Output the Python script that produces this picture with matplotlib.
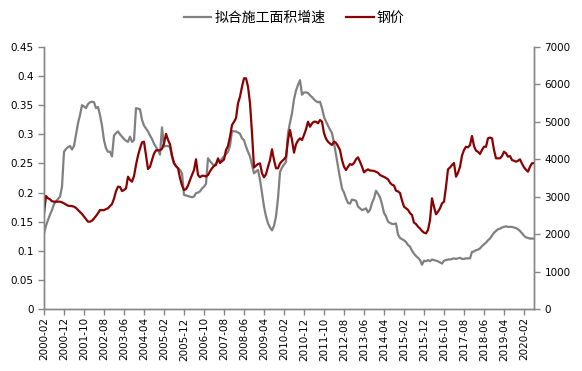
import matplotlib
matplotlib.use("Agg")
import matplotlib.pyplot as plt
import pandas as pd

plt.rcParams['font.family'] = ['DejaVu Sans']

start_month = "2000-02"
n_months = 246
area_name = "拟合施工面积增速"
steel_name = "钢价"

area_growth = [
    .130, .143, .153, .162, .170, .180, .185, .189, .193, .210,
    .270, .275, .278, .280, .274, .280, .300, .319, .333, .350,
    .348, .345, .352, .355, .356, .355, .345, .347, .333, .315,
    .290, .276, .270, .270, .262, .298, .302, .305, .300, .296,
    .292, .289, .287, .296, .287, .290, .345, .344, .343, .325,
    .315, .310, .305, .298, .292, .284, .278, .273, .265, .312,
    .279, .280, .280, .278, .262, .250, .245, .242, .239, .233,
    .196, .195, .194, .193, .192, .193, .199, .200, .202, .207,
    .210, .215, .259, .254, .250, .246, .250, .256, .253, .258,
    .262, .266, .270, .280, .306, .305, .305, .303, .301, .293,
    .290, .279, .270, .262, .248, .233, .236, .239, .222, .199,
    .176, .159, .147, .140, .135, .143, .159, .190, .235, .243,
    .248, .253, .302, .320, .336, .360, .375, .385, .393, .368,
    .372, .372, .371, .367, .364, .360, .357, .355, .356, .345,
    .330, .322, .315, .308, .302, .285, .265, .245, .225, .207,
    .200, .190, .182, .181, .188, .187, .186, .176, .173, .170,
    .171, .173, .166, .170, .182, .190, .203, .198, .192, .180,
    .165, .159, .150, .148, .146, .146, .147, .128, .122, .120,
    .118, .115, .110, .107, .100, .095, .091, .088, .084, .076,
    .083, .082, .084, .082, .085, .084, .083, .082, .080, .078,
    .083, .084, .085, .085, .086, .087, .086, .087, .088, .086,
    .086, .087, .087, .087, .098, .099, .101, .102, .104, .108,
    .111, .114, .118, .121, .126, .131, .134, .137, .138, .140,
    .141, .142, .141, .141, .141, .140, .139, .137, .134, .130,
    .126, .123, .122, .121, .121, .121,
]

steel_price = [
    2550, 3019, 2960, 2930, 2880, 2867, 2867, 2867, 2867, 2850,
    2823, 2790, 2760, 2755, 2750, 2733, 2700, 2645, 2590, 2538,
    2470, 2400, 2333, 2333, 2360, 2420, 2485, 2560, 2645, 2640,
    2640, 2670, 2690, 2750, 2805, 2950, 3150, 3268, 3260, 3150,
    3180, 3220, 3535, 3450, 3402, 3550, 3850, 4100, 4293, 4450,
    4470, 4100, 3740, 3800, 3981, 4150, 4240, 4240, 4240, 4280,
    4420, 4680, 4520, 4400, 4100, 3900, 3820, 3760, 3500, 3300,
    3179, 3200, 3300, 3446, 3580, 3714, 4000, 3580, 3520, 3560,
    3560, 3540, 3580, 3680, 3760, 3820, 3850, 4025, 3900, 3950,
    3990, 4248, 4355, 4603, 4916, 5000, 5100, 5495, 5672, 5940,
    6164, 6164, 5940, 5500, 4700, 3780, 3830, 3874, 3890, 3625,
    3520, 3600, 3800, 3981, 4266, 3981, 3760, 3760, 3890, 3950,
    4000, 4070, 4515, 4782, 4515, 4176, 4400, 4500, 4560, 4515,
    4650, 4800, 5004, 4870, 4960, 5004, 5004, 4960, 5050, 5004,
    4700, 4550, 4470, 4420, 4382, 4470, 4440, 4350, 4248, 3981,
    3800, 3714, 3800, 3874, 3850, 3900, 4000, 4052, 3935, 3803,
    3650, 3700, 3731, 3700, 3695, 3690, 3665, 3640, 3580, 3553,
    3530, 3500, 3465, 3375, 3320, 3300, 3161, 3140, 3100, 2900,
    2733, 2690, 2650, 2560, 2511, 2306, 2270, 2200, 2150, 2084,
    2040, 2022, 2110, 2378, 2957, 2733, 2530, 2600, 2690, 2823,
    2867, 3268, 3731, 3780, 3847, 3900, 3535, 3640, 3800, 4100,
    4248, 4336, 4320, 4380, 4622, 4355, 4230, 4200, 4141, 4250,
    4336, 4336, 4560, 4580, 4560, 4250, 4026, 4026, 4026, 4086,
    4203, 4160, 4070, 4086, 3980, 3962, 3935, 3960, 4000, 3883,
    3785, 3720, 3668, 3803, 3893, 3900,
]

months = [p.strftime("%Y-%m") for p in pd.period_range(start_month, periods=n_months, freq="M")]
x = list(range(len(months)))
tick_idx = x[::10]
tick_labels = [months[i] for i in tick_idx]

W, H = 582, 371
fig = plt.figure(figsize=(W / 100, H / 100), dpi=100)
ax = fig.add_axes([44 / W, (H - 309) / H, (534 - 44) / W, (309 - 47) / H])
ax2 = ax.twinx()

gray = "#808080"
red = "#8B0000"
axis_c = "#868686"

l1, = ax.plot(x, area_growth, color=gray, lw=1.6, label=area_name)
l2, = ax2.plot(x, steel_price, color=red, lw=1.6, label=steel_name)

ax.set_xlim(0, len(x) - 1)
ax.set_ylim(0, 0.45)
ax2.set_ylim(0, 7000)
ax.set_yticks([i * 0.05 for i in range(10)])
ax.set_yticklabels(["0", "0.05", "0.1", "0.15", "0.2", "0.25", "0.3", "0.35", "0.4", "0.45"])
ax2.set_yticks(range(0, 7001, 1000))
ax.set_xticks(tick_idx)
ax.set_xticklabels(tick_labels, rotation=90)

for a in (ax, ax2):
    a.spines['top'].set_visible(False)
    for s in ('left', 'right', 'bottom'):
        a.spines[s].set_color(axis_c)
        a.spines[s].set_linewidth(1.0)
    a.tick_params(colors=axis_c, labelcolor="#000000", labelsize=7.5, length=4, width=1)
ax.tick_params(axis='x', labelsize=7.5, pad=2)

fig.legend([l1, l2], [area_name, steel_name], loc="center", bbox_to_anchor=(0.505, 1 - 18 / H),
           ncol=2, frameon=False, handlelength=2.0, columnspacing=1.5, handletextpad=0.2,
           prop={'family': ['Noto Sans CJK SC', 'DejaVu Sans'], 'size': 10})

fig.savefig("out.png", dpi=100)
